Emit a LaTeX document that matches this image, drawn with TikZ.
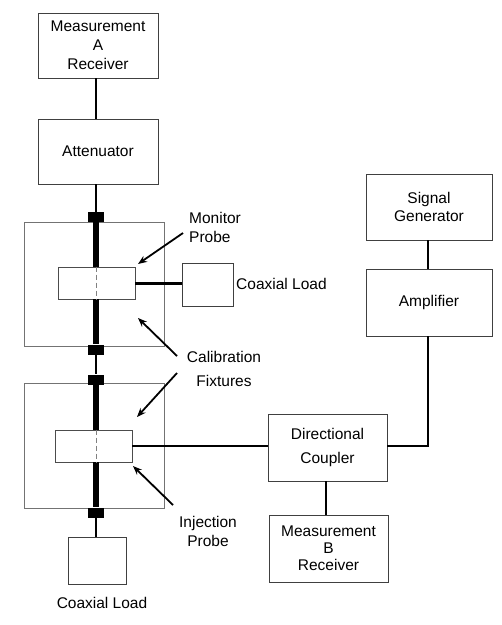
\documentclass[tikz,border=0pt]{standalone}
\usepackage{fontspec}
\setmainfont{Liberation Sans}
\usetikzlibrary{arrows.meta}
\begin{document}
\begin{tikzpicture}[x=1pt,y=-1pt,
  lbl/.style={font=\fontsize{15.5}{19}\selectfont, align=center, inner sep=0pt},
  box/.style={draw=black!75, line width=0.9pt, fill=white, lbl},
  fix/.style={draw=black!55, line width=0.9pt},
  probe/.style={draw=black!70, line width=0.9pt, fill=white},
  blk/.style={fill=black, minimum width=16pt, minimum height=10pt, inner sep=0pt},
  wire/.style={line width=1.5pt},
  coax/.style={line width=5.5pt},
  ptr/.style={line width=1.8pt, -{Stealth[length=9pt,width=7pt]}}
]
\useasboundingbox (0,0) rectangle (502,625);
% fixtures
\node[fix, minimum width=140pt, minimum height=124pt] (fixU) at (94,284) {};
\node[fix, minimum width=140pt, minimum height=125pt] (fixL) at (94,445.5) {};
% boxes
\node[box, minimum width=120pt, minimum height=65pt] (mA) at (98,45.5) {Measurement\\A\\Receiver};
\node[box, minimum width=120pt, minimum height=65pt] (att) at (98,151.5) {Attenuator};
\node[box, minimum width=51pt, minimum height=43pt] (loadM) at (207.5,284.5) {};
\node[box, minimum width=58pt, minimum height=47pt] (loadB) at (97,560.5) {};
\node[box, minimum width=119pt, minimum height=67pt] (dc) at (327.5,447.5) {Directional\\[5pt]Coupler};
\node[box, minimum width=119pt, minimum height=67pt] (mB) at (328.5,548.5) {Measurement\\[-2pt]B\\[-2pt]Receiver};
\node[box, minimum width=126pt, minimum height=66pt] (sg) at (429,207) {Signal\\[-1pt]Generator};
\node[box, minimum width=126pt, minimum height=67pt] (amp) at (429,302.5) {Amplifier};
% blocks on the coax line
\node[blk] (b1) at (96,217) {};
\node[blk] (b2) at (96,349.5) {};
\node[blk] (b3) at (96,379.5) {};
\node[blk] (b4) at (96,512.5) {};
% probes
\node[probe, minimum width=77pt, minimum height=32pt] (probeM) at (96.5,283) {};
\node[probe, minimum width=77pt, minimum height=32pt] (probeI) at (93.5,446) {};
% coax line
\draw[wire] (mA.south -| 96,0) -- (att.north -| 96,0);
\draw[wire] (att.south -| b1) -- (b1.north);
\draw[coax] (b1.south) -- (b1 |- probeM.north);
\draw[coax] (b1 |- probeM.south) -- (b2.north);
\draw[wire] (b2.south) -- (b3.north);
\draw[coax] (b3.south) -- (b3 |- probeI.north);
\draw[coax] (b3 |- probeI.south) -- (b4.north);
\draw[wire] (b4.south) -- (b4 |- loadB.north);
\draw[black!50, line width=0.9pt, dash pattern=on 5pt off 3pt] (b1 |- probeM.north) -- (b1 |- probeM.south);
\draw[black!50, line width=0.9pt, dash pattern=on 5pt off 3pt] (b3 |- probeI.north) -- (b3 |- probeI.south);
% connections
\draw[line width=3pt] (probeM.east) -- (loadM.west |- probeM.east);
\draw[wire] (probeI.east) -- (dc.west |- probeI.east);
\draw[wire] (dc.east |- 0,446) -| (amp.south -| 428,0);
\draw[wire] (sg.south -| 428,0) -- (amp.north -| 428,0);
\draw[wire] (dc.south -| 326,0) -- (mB.north -| 326,0);
% labels
\node[lbl, align=left, anchor=west] (tMon) at (189,227) {Monitor\\Probe};
\node[lbl, anchor=west] (tLoadM) at (236,284) {Coaxial Load};
\node[lbl] (tCal) at (224,369) {Calibration\\[5pt]Fixtures};
\node[lbl] (tInj) at (208,531) {Injection\\Probe};
\node[lbl] (tLoadB) at (102,603) {Coaxial Load};
% pointer arrows
\coordinate (a1s) at (183,233); \coordinate (a1e) at (138,264);
\coordinate (a2s) at (177,356); \coordinate (a2e) at (138,318);
\coordinate (a3s) at (177,373); \coordinate (a3e) at (137,417);
\coordinate (a4s) at (173,505); \coordinate (a4e) at (133,466);
\draw[ptr] (a1s) -- (a1e);
\draw[ptr] (a2s) -- (a2e);
\draw[ptr] (a3s) -- (a3e);
\draw[ptr] (a4s) -- (a4e);
\end{tikzpicture}
\end{document}
